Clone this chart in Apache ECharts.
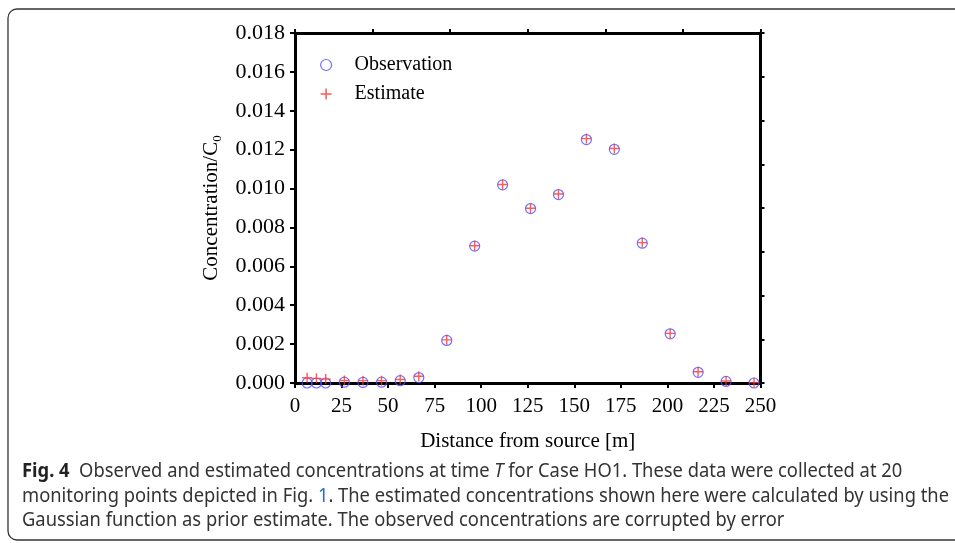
<!DOCTYPE html>
<html>
<head>
<meta charset="utf-8">
<script src="https://cdn.jsdelivr.net/npm/echarts@6/dist/echarts.min.js"></script>
<style>
html,body{margin:0;padding:0;background:#fff;}
#chart{width:955px;height:543px;}
</style>
</head>
<body>
<div id="chart"></div>
<script>
// ---- data ----
const distances = [6.5, 11.5, 16.5, 26.5, 36.5, 46.5, 56.5, 66.5, 81.5, 96.5, 111.5, 126.5, 141.5, 156.5, 171.5, 186.5, 201.5, 216.5, 231.5, 246.5];
const observation = [0.0000, 0.0000, 0.0000, 0.00004, 0.00003, 0.00004, 0.00012, 0.00028, 0.00219, 0.00704, 0.01019, 0.00897, 0.00969, 0.01252, 0.01202, 0.00719, 0.00253, 0.00055, 0.00008, 0.0000];
const estimate = [0.00027, 0.00024, 0.00020, 0.00013, 0.00012, 0.00012, 0.00018, 0.00035, 0.00222, 0.00706, 0.01021, 0.00899, 0.00972, 0.01257, 0.01206, 0.00722, 0.00255, 0.00058, 0.00010, 0.00002];
const seriesNames = ['Observation', 'Estimate'];
const xTitle = 'Distance from source [m]';
const yTitle = 'Concentration/C';
const captionLines = [
  ['Fig. 4', '  Observed and estimated concentrations at time ', 'T', ' for Case HO1. These data were collected at 20'],
  ['monitoring points depicted in Fig. ', '1', '. The estimated concentrations shown here were calculated by using the'],
  ['Gaussian function as prior estimate. The observed concentrations are corrupted by error']
];

const SERIF = '"Liberation Serif", "Times New Roman", serif';
const SANS = '"Noto Sans", "Open Sans", sans-serif';
const CAP_SIZE = 20;

// measure caption for horizontal condensing
const ctx = document.createElement('canvas').getContext('2d');
ctx.font = CAP_SIZE + 'px "Noto Sans"';
const capScale = 927 / ctx.measureText(captionLines[1].join('')).width;

const chart = echarts.init(document.getElementById('chart'));
const obsData = distances.map((d, i) => [d, observation[i]]);
const estData = distances.map((d, i) => [d, estimate[i]]);

const capRich = {
  b: {fontFamily: SANS, fontSize: CAP_SIZE, fontWeight: 'bold', fill: '#222'},
  n: {fontFamily: SANS, fontSize: CAP_SIZE, fill: '#333'},
  i: {fontFamily: SANS, fontSize: CAP_SIZE, fontStyle: 'italic', fill: '#333'},
  l: {fontFamily: SANS, fontSize: CAP_SIZE, fill: '#2a6ebb'}
};
function capText(idx) {
  const p = captionLines[idx];
  if (idx === 0) return '{b|' + p[0] + '}{n|' + p[1] + '}{i|' + p[2] + '}{n|' + p[3] + '}';
  if (idx === 1) return '{n|' + p[0] + '}{l|' + p[1] + '}{n|' + p[2] + '}';
  return '{n|' + p[0] + '}';
}
const capY = [471, 496, 520];

const option = {
  animation: false,
  backgroundColor: '#fff',
  grid: {left: 295, right: 194.5, top: 33, bottom: 160, containLabel: false},
  legend: {
    orient: 'vertical',
    left: 315, top: 50,
    itemWidth: 11, itemHeight: 11, itemGap: 9,
    textStyle: {fontFamily: SERIF, fontSize: 20, color: '#000', padding: [0, 0, 0, 18]},
    data: [
      {name: seriesNames[0], itemStyle: {borderWidth: 1.2, borderColor: '#4f4fff', color: 'rgba(0,0,0,0)'}},
      {name: seriesNames[1], itemStyle: {borderWidth: 0, color: '#ff2f2f'}}
    ]
  },
  xAxis: [
    {
      type: 'value', position: 'bottom', min: 0, max: 250, interval: 25,
      name: xTitle, nameLocation: 'middle', nameGap: 48,
      nameTextStyle: {fontFamily: SERIF, fontSize: 21, color: '#000'},
      axisLine: {onZero: false, lineStyle: {color: '#000', width: 3}},
      axisTick: {inside: false, length: 5, lineStyle: {color: '#000', width: 2}},
      axisLabel: {fontFamily: SERIF, fontSize: 21, color: '#000', margin: 13},
      splitLine: {show: false}
    },
    {
      type: 'value', position: 'top', min: 0, max: 250, interval: 250 / 6,
      axisLine: {onZero: false, lineStyle: {color: '#000', width: 3}},
      axisTick: {inside: false, length: 4, lineStyle: {color: '#000', width: 2}},
      axisLabel: {show: false},
      splitLine: {show: false}
    }
  ],
  yAxis: [
    {
      type: 'value', position: 'left', min: 0, max: 0.018, interval: 0.002,
      name: '{a|' + yTitle + '}{s|0}', nameLocation: 'middle', nameGap: 71, nameRotate: 90,
      nameTextStyle: {
        fontFamily: SERIF, fontSize: 21, color: '#000',
        rich: {
          a: {fontFamily: SERIF, fontSize: 21, color: '#000'},
          s: {fontFamily: SERIF, fontSize: 13, color: '#000', padding: [12, 0, 0, 0]}
        }
      },
      axisLine: {onZero: false, lineStyle: {color: '#000', width: 3}},
      axisTick: {inside: false, length: 5, lineStyle: {color: '#000', width: 2}},
      axisLabel: {fontFamily: SERIF, fontSize: 22, color: '#000', margin: 10, formatter: v => v.toFixed(3)},
      splitLine: {show: false}
    },
    {
      type: 'value', position: 'right', min: 0, max: 0.018, interval: 0.00225,
      axisLine: {onZero: false, lineStyle: {color: '#000', width: 3}},
      axisTick: {inside: false, length: 4, lineStyle: {color: '#000', width: 2}},
      axisLabel: {show: false},
      splitLine: {show: false}
    }
  ],
  series: [
    {
      name: seriesNames[0], type: 'scatter', xAxisIndex: 0, yAxisIndex: 0,
      symbol: 'circle', symbolSize: 10, clip: false,
      itemStyle: {color: 'rgba(0,0,0,0)', borderColor: '#4f4fff', borderWidth: 1.2},
      data: obsData, z: 3
    },
    {
      name: seriesNames[1], type: 'scatter', xAxisIndex: 0, yAxisIndex: 0,
      symbol: 'path://M0,4.3H10V5.7H0Z M4.3,0H5.7V10H4.3Z', symbolSize: 10, clip: false,
      itemStyle: {color: '#ff2f2f'},
      data: estData, z: 4
    }
  ],
  graphic: [
    {type: 'rect', z: -10, silent: true, shape: {x: 8, y: 9, width: 965, height: 531, r: 9}, style: {fill: 'none', stroke: '#333', lineWidth: 1.3}}
  ].concat(capY.map((y, i) => ({
    type: 'text', x: 22, y: y, scaleX: capScale, scaleY: 1, silent: true,
    style: {text: capText(i), rich: capRich, verticalAlign: 'middle', fontFamily: SANS, fontSize: CAP_SIZE, fill: '#333'}
  })))
};
chart.setOption(option);
</script>
</body>
</html>
